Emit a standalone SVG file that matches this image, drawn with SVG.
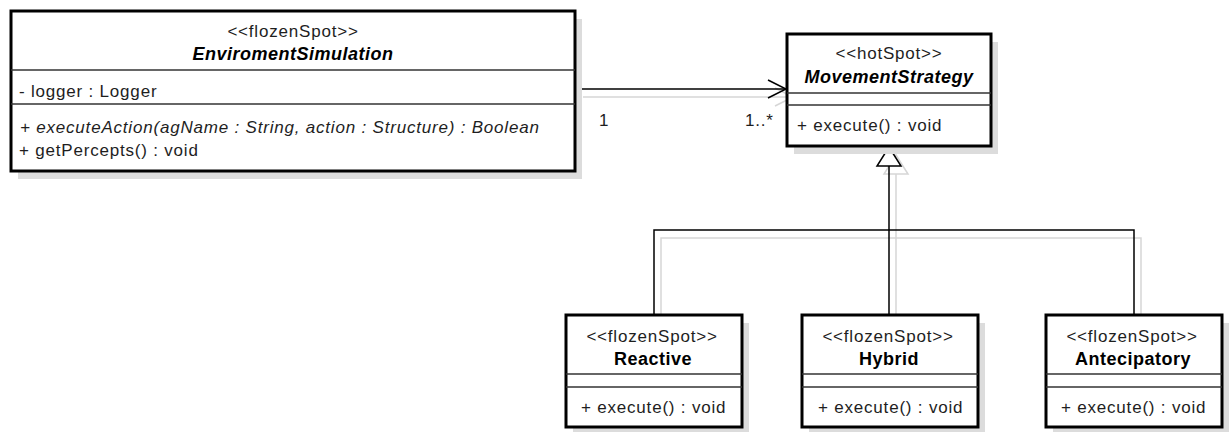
<svg xmlns="http://www.w3.org/2000/svg" width="1229" height="432" viewBox="0 0 1229 432">
<style>
.bg{fill:#fff}
.sh{fill:#dcdcdc}
.box{fill:#fff;stroke:#000;stroke-width:3}
.dv{stroke:#333;stroke-width:1.5}
.t{font-family:"Liberation Sans",Arial,sans-serif;font-size:17px;letter-spacing:0.8px;fill:#1e1e1e}
.c{text-anchor:middle}
.nm{font-weight:bold;font-size:18px;letter-spacing:0.5px;fill:#000}
.it{font-style:italic}
.ln{fill:none;stroke:#000;stroke-width:1.5}
.lsh{fill:none;stroke:#d6d6d6;stroke-width:1.5}
.tri{fill:#fff;stroke:#000;stroke-width:1.5}
</style>
<rect class="bg" x="0" y="0" width="1229" height="432"/>
<g id="connectors">
  <path class="lsh" d="M583,97 H793 M775,88 L793,97 L775,106"/>
  <path class="lsh" d="M896,174 V238 M661,322 V238 H1141 V322 M896,238 V322"/>
  <polygon class="lsh" points="896,155 884,174 908,174"/>
  <path class="ln" d="M576,89 H785"/>
  <path class="ln" d="M768,80 L786,89 L768,98"/>
  <path class="ln" d="M889,166 V230 M654,314 V230 H1134 V314 M889,230 V314"/>
  <polygon class="tri" points="889,147 877,166 901,166"/>
  <text class="t" x="599" y="126">1</text>
  <text class="t" x="745" y="126">1..*</text>
</g>
<g id="EnviromentSimulation">
  <rect class="sh" x="18" y="19" width="564" height="160"/>
  <rect class="box" x="11" y="11" width="564" height="160"/>
  <line class="dv" x1="11" y1="70" x2="575" y2="70"/>
  <line class="dv" x1="11" y1="104" x2="575" y2="104"/>
  <text class="t c" x="293" y="37">&lt;&lt;flozenSpot&gt;&gt;</text>
  <text class="t c nm it" x="293" y="60">EnviromentSimulation</text>
  <text class="t" x="19" y="97">- logger : Logger</text>
  <text class="t it" x="20" y="133">+ executeAction(agName : String, action : Structure) : Boolean</text>
  <text class="t" x="19" y="156">+ getPercepts() : void</text>
</g>
<g id="MovementStrategy">
  <rect class="sh" x="794" y="42" width="204" height="112"/>
  <rect class="box" x="787" y="34" width="204" height="112"/>
  <line class="dv" x1="787" y1="93" x2="991" y2="93"/>
  <line class="dv" x1="787" y1="105" x2="991" y2="105"/>
  <text class="t c" x="889" y="59">&lt;&lt;hotSpot&gt;&gt;</text>
  <text class="t c nm it" x="889" y="83">MovementStrategy</text>
  <text class="t" x="797" y="131">+ execute() : void</text>
</g>
<g id="Reactive">
  <rect class="sh" x="573" y="323" width="176" height="112"/>
  <rect class="box" x="566" y="315" width="176" height="112"/>
  <line class="dv" x1="566" y1="374" x2="742" y2="374"/>
  <line class="dv" x1="566" y1="387" x2="742" y2="387"/>
  <text class="t c" x="652" y="342">&lt;&lt;flozenSpot&gt;&gt;</text>
  <text class="t c nm" x="653" y="365">Reactive</text>
  <text class="t" x="581" y="413">+ execute() : void</text>
</g>
<g id="Hybrid">
  <rect class="sh" x="809" y="323" width="176" height="112"/>
  <rect class="box" x="802" y="315" width="176" height="112"/>
  <line class="dv" x1="802" y1="374" x2="978" y2="374"/>
  <line class="dv" x1="802" y1="387" x2="978" y2="387"/>
  <text class="t c" x="888" y="342">&lt;&lt;flozenSpot&gt;&gt;</text>
  <text class="t c nm" x="889" y="365">Hybrid</text>
  <text class="t" x="818" y="413">+ execute() : void</text>
</g>
<g id="Antecipatory">
  <rect class="sh" x="1053" y="323" width="176" height="112"/>
  <rect class="box" x="1046" y="315" width="176" height="112"/>
  <line class="dv" x1="1046" y1="374" x2="1222" y2="374"/>
  <line class="dv" x1="1046" y1="387" x2="1222" y2="387"/>
  <text class="t c" x="1132" y="342">&lt;&lt;flozenSpot&gt;&gt;</text>
  <text class="t c nm" x="1133" y="365">Antecipatory</text>
  <text class="t" x="1061" y="413">+ execute() : void</text>
</g>
</svg>
